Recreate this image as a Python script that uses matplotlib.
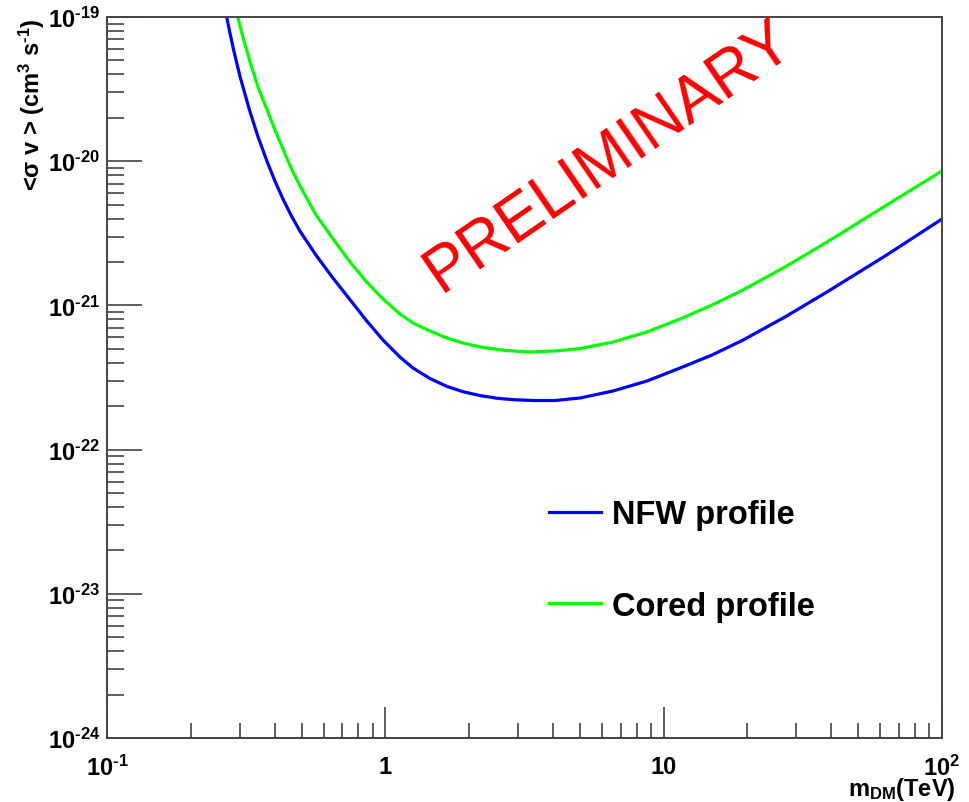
import matplotlib
matplotlib.use("Agg")
import matplotlib.pyplot as plt
from matplotlib.ticker import FixedLocator, FixedFormatter, LogLocator, NullFormatter

plt.rcParams['font.family'] = ['Liberation Sans', 'DejaVu Sans']
plt.rcParams['font.weight'] = 'bold'
plt.rcParams['axes.labelweight'] = 'bold'
plt.rcParams['mathtext.fontset'] = 'custom'
plt.rcParams['mathtext.rm'] = 'Liberation Sans:bold'
plt.rcParams['mathtext.it'] = 'Liberation Sans:bold'
plt.rcParams['mathtext.bf'] = 'Liberation Sans:bold'
plt.rcParams['mathtext.sf'] = 'Liberation Sans:bold'

# NFW profile limit (m_DM in TeV, <sigma v> in cm^3/s)
nfw_mass = [0.2692, 0.2767, 0.2843, 0.3005, 0.3265, 0.3487, 0.3749, 0.4015, 0.4297,
            0.4584, 0.4937, 0.5636, 0.6488, 0.7466, 0.8574, 0.9811, 1.129, 1.257,
            1.447, 1.666, 1.902, 2.189, 2.520, 2.877, 3.395, 4.072, 5.008, 6.58,
            8.716, 11.46, 14.93, 19.29, 27.31, 38.65, 62.46, 100]
nfw_sv = [1.0e-19, 7.71e-20, 6.04e-20, 3.87e-20, 2.20e-20, 1.48e-20, 1.01e-20,
          7.26e-21, 5.42e-21, 4.22e-21, 3.27e-21, 2.23e-21, 1.545e-21, 1.096e-21,
          7.80e-22, 5.75e-22, 4.38e-22, 3.68e-22, 3.11e-22, 2.74e-22, 2.52e-22,
          2.37e-22, 2.27e-22, 2.22e-22, 2.19e-22, 2.19e-22, 2.28e-22, 2.55e-22,
          2.99e-22, 3.68e-22, 4.53e-22, 5.75e-22, 8.32e-22, 1.24e-21, 2.20e-21,
          3.97e-21]

# Cored profile limit
cored_mass = [0.2948, 0.3106, 0.3265, 0.3487, 0.3749, 0.4015, 0.4288, 0.4584, 0.4937,
              0.5636, 0.6488, 0.7466, 0.8574, 0.9811, 1.129, 1.257, 1.447, 1.666,
              1.902, 2.189, 2.692, 3.311, 4.072, 5.008, 6.58, 8.716, 11.46, 14.93,
              19.29, 27.31, 38.65, 62.46, 100]
cored_sv = [1.0e-19, 6.82e-20, 4.88e-20, 3.27e-20, 2.30e-20, 1.645e-20, 1.216e-20,
            8.97e-21, 6.73e-21, 4.24e-21, 2.89e-21, 2.00e-21, 1.45e-21, 1.107e-21,
            8.71e-22, 7.55e-22, 6.64e-22, 5.94e-22, 5.48e-22, 5.15e-22, 4.87e-22,
            4.75e-22, 4.83e-22, 5.02e-22, 5.57e-22, 6.55e-22, 8.05e-22, 1.007e-21,
            1.28e-21, 1.85e-21, 2.75e-21, 4.89e-21, 8.55e-21]

xticks = [0.1, 1, 10, 100]
xlabels = [r'$10^{\text{-}1}$', '1', '10', r'$10^{2}$']
yticks = [1e-24, 1e-23, 1e-22, 1e-21, 1e-20, 1e-19]
ylabels = [r'$10^{\text{-}24}$', r'$10^{\text{-}23}$', r'$10^{\text{-}22}$',
           r'$10^{\text{-}21}$', r'$10^{\text{-}20}$', r'$10^{\text{-}19}$']

fig = plt.figure(figsize=(9.70, 8.03), dpi=100)
ax = fig.add_axes([0.1103, 0.0797, 0.8608, 0.8979])

ax.plot(nfw_mass, nfw_sv, color='#0000ff', lw=2.3, label='NFW profile',
        solid_joinstyle='round')
ax.plot(cored_mass, cored_sv, color='#00ff00', lw=2.3, label='Cored profile',
        solid_joinstyle='round')

ax.set_xscale('log')
ax.set_yscale('log')
ax.set_xlim(0.1, 100)
ax.set_ylim(1e-24, 1e-19)

ax.xaxis.set_major_locator(FixedLocator(xticks))
ax.xaxis.set_major_formatter(FixedFormatter(xlabels))
ax.yaxis.set_major_locator(FixedLocator(yticks))
ax.yaxis.set_major_formatter(FixedFormatter(ylabels))
ax.xaxis.set_minor_locator(LogLocator(base=10, subs=range(2, 10)))
ax.yaxis.set_minor_locator(LogLocator(base=10, subs=range(2, 10)))
ax.xaxis.set_minor_formatter(NullFormatter())
ax.yaxis.set_minor_formatter(NullFormatter())

tc = '#444444'
ax.tick_params(axis='x', which='major', direction='in', length=22, width=1.2,
               color=tc, labelsize=17, pad=12, top=False)
ax.tick_params(axis='x', which='minor', direction='in', length=11, width=1.2,
               color=tc, top=False)
ax.tick_params(axis='y', which='major', direction='in', length=25, width=1.2,
               color=tc, labelsize=17, pad=5, right=False)
ax.tick_params(axis='y', which='minor', direction='in', length=12, width=1.2,
               color=tc, right=False)
for s in ax.spines.values():
    s.set_color(tc)
    s.set_linewidth(1.4)

ax.set_xlabel(r'm$_{\mathregular{DM}}$(TeV)', fontsize=17, fontweight='bold',
              loc='right')
ax.xaxis.set_label_coords(1.016, -0.051)
ax.set_ylabel(r'<σ v > (cm$^{3}$ s$^{\text{-}1}$)', fontsize=17,
              fontweight='bold', loc='top')
ax.yaxis.set_label_coords(-0.072, 1.0)

ax.legend(loc='upper left', bbox_to_anchor=(0.529, 0.331), frameon=False,
          fontsize=23.5, handlelength=1.6, handletextpad=0.33, labelspacing=1.85,
          borderpad=0, borderaxespad=0)

fig.text(0.628, 0.805, 'PRELIMINARY', color='#ff0000', fontsize=46,
         fontweight='normal', rotation=34.5, ha='center', va='center',
         rotation_mode='anchor')

fig.savefig('out.png', dpi=100)
